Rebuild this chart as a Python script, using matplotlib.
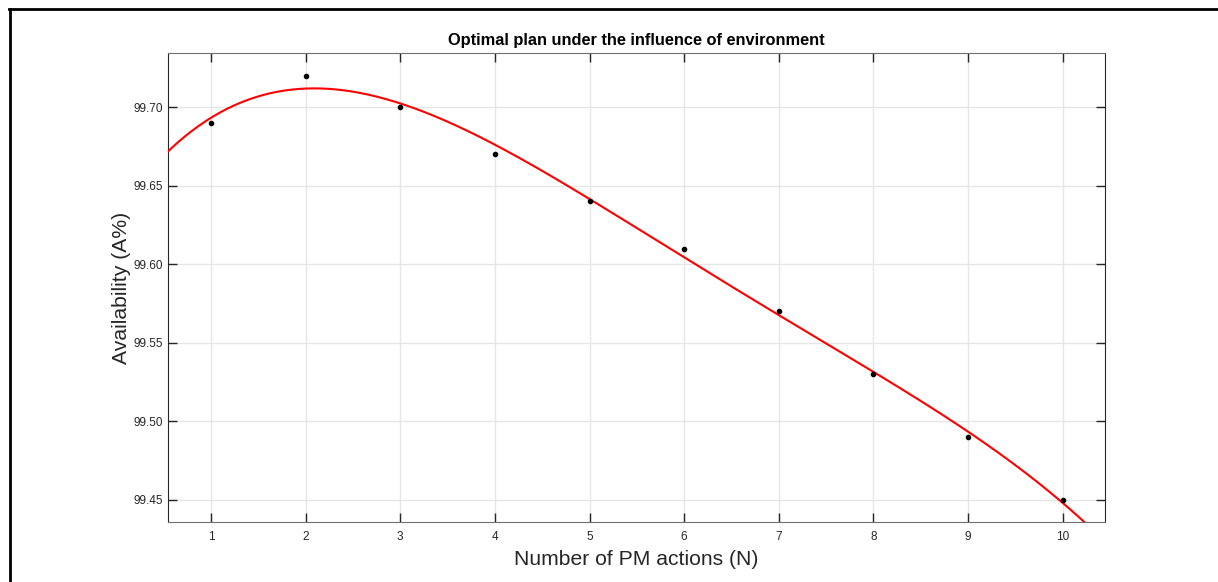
import numpy as np
import matplotlib.pyplot as plt
from matplotlib.lines import Line2D

# PM actions vs availability
n_actions = [1, 2, 3, 4, 5, 6, 7, 8, 9, 10]
availability = [99.69, 99.72, 99.70, 99.67, 99.64, 99.61, 99.57, 99.53, 99.49, 99.45]

plt.rcParams['font.family'] = ['Liberation Sans', 'DejaVu Sans']

fig = plt.figure(figsize=(12.18, 5.82), dpi=100)
ax = fig.add_axes([168 / 1218, 1 - 522 / 582, (1105 - 168) / 1218, (522 - 53) / 582])

# 4th order polynomial fit through the measured points
coef = np.polyfit(n_actions, availability, 4)
xf = np.linspace(0.5, 10.5, 400)
ax.plot(xf, np.polyval(coef, xf), color='red', lw=1.5, zorder=3)
ax.plot(n_actions, availability, 'o', color='black', ms=3, zorder=4)

ax.set_xlim(0.546, 10.447)
ax.set_ylim(99.436, 99.7344)
ax.set_xticks(n_actions)
ax.set_yticks([99.45, 99.50, 99.55, 99.60, 99.65, 99.70])
ax.set_yticklabels(['99.45', '99.50', '99.55', '99.60', '99.65', '99.70'])

ax.grid(True, color='#e6e6e6', lw=1)
ax.set_axisbelow(True)
ax.tick_params(direction='in', length=6.5, width=1, top=True, right=True,
               labelsize=8.5, colors='#262626')
ax.tick_params(axis='y', pad=3.5)
ax.tick_params(axis='x', pad=6.5)
for s in ['left', 'right']:
    ax.spines[s].set_color('#262626')
for s in ['top', 'bottom']:
    ax.spines[s].set_color('#707070')

ax.set_title('Optimal plan under the influence of environment', fontsize=11.8,
             fontweight='bold', pad=6)
ax.set_xlabel('Number of PM actions (N)', fontsize=15.2, color='#262626', labelpad=5)
ax.set_ylabel('Availability (A%)', fontsize=15.2, color='#262626', labelpad=2)

# figure frame (left and top edges)
fig.add_artist(Line2D([10 / 1218, 10 / 1218], [0, 1 - 9 / 582], color='black', lw=2,
                      transform=fig.transFigure))
fig.add_artist(Line2D([9 / 1218, 1], [1 - 9 / 582, 1 - 9 / 582], color='black', lw=2,
                      transform=fig.transFigure))

fig.savefig('out.png', dpi=100)
